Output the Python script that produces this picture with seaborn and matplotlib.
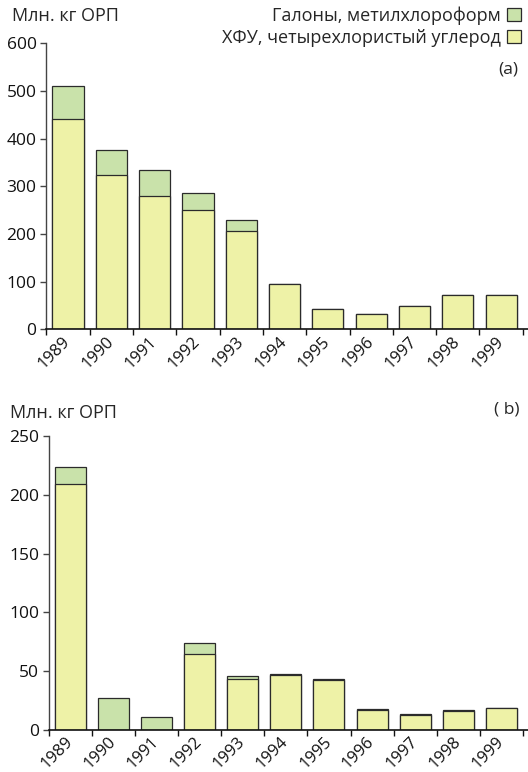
import numpy as np
import pandas as pd
import seaborn as sns
import matplotlib
matplotlib.use("Agg")
import matplotlib.pyplot as plt
from matplotlib.patches import Patch

years = ['1989', '1990', '1991', '1992', '1993', '1994', '1995', '1996', '1997', '1998', '1999']

# panel (a)
a_cfc = [441, 324, 279, 251, 206, 96, 43, 33, 48, 71, 72]
a_halon = [70, 53, 56, 36, 24, 0, 0, 0, 0, 0, 0]

# panel (b)
b_cfc = [209, 0, 0, 65, 43, 46.5, 42.2, 17.3, 12.8, 16.4, 18.4]
b_halon = [15, 27.5, 11.3, 8.7, 2.6, 0.8, 1.2, 0.8, 0.8, 0.6, 0.6]

ylabel = 'Млн. кг ОРП'
legend_halon = 'Галоны, метилхлороформ'
legend_cfc = 'ХФУ, четырехлористый углерод'

YELLOW = '#EEF2A7'
GREEN = '#C9E2AA'
EDGE = '#2b2b2b'

sns.set_theme(style='white')
plt.rcParams['font.family'] = ['Open Sans', 'DejaVu Sans']

fig = plt.figure(figsize=(5.28, 7.72), dpi=100)
ax1 = fig.add_axes([0.0877, 0.5734, 0.9123, 0.3705])
ax2 = fig.add_axes([0.0928, 0.0544, 0.9072, 0.3808])


def draw(ax, cfc, halon, ymax, step):
    df = pd.DataFrame({'year': years,
                       'total': np.add(cfc, halon),
                       'cfc': cfc})
    sns.barplot(data=df, x='year', y='total', color=GREEN, width=0.72,
                edgecolor=EDGE, linewidth=0.9, saturation=1, ax=ax)
    sns.barplot(data=df, x='year', y='cfc', color=YELLOW, width=0.72,
                edgecolor=EDGE, linewidth=0.9, saturation=1, ax=ax)
    ax.set_xlim(-0.49, 10.62)
    ax.set_ylim(0, ymax)
    ax.set_yticks(np.arange(0, ymax + 1, step))
    ax.set_xticks(range(len(years)))
    ax.set_xticklabels(years)
    ax.set_xticks(np.arange(-0.5, 10.6, 1.0), minor=True)
    ax.set_xlabel('')
    ax.set_ylabel('')
    for s in ['top', 'right']:
        ax.spines[s].set_visible(False)
    ax.spines['left'].set_color('#444444')
    ax.spines['left'].set_linewidth(1.0)
    ax.spines['bottom'].set_color('#111111')
    ax.spines['bottom'].set_linewidth(1.2)
    ax.tick_params(axis='y', which='major', left=True, length=4, width=1,
                   color='#444444', labelsize=12.5, pad=3, colors='#111111')
    ax.tick_params(axis='x', which='major', bottom=False, length=0,
                   labelsize=12, pad=7, colors='#111111')
    ax.tick_params(axis='x', which='minor', bottom=True, length=4, width=1,
                   color='#111111')
    for lab in ax.get_xticklabels():
        lab.set_rotation(45)
        lab.set_ha('right')
        lab.set_va('center')
        lab.set_rotation_mode('anchor')
    ax.grid(False)


draw(ax1, a_cfc, a_halon, 600, 100)
draw(ax2, b_cfc, b_halon, 250, 50)

fig.text(12 / 528, 1 - 16 / 772, ylabel, fontsize=13, va='center', ha='left')
fig.text(10 / 528, 1 - 413 / 772, ylabel, fontsize=13, va='center', ha='left')
fig.text(518 / 528, 1 - 70 / 772, '(a)', fontsize=12.5, va='center', ha='right')
fig.text(519 / 528, 1 - 409 / 772, '( b)', fontsize=12.5, va='center', ha='right')

handles = [Patch(facecolor=GREEN, edgecolor=EDGE, linewidth=0.9, label=legend_halon),
           Patch(facecolor=YELLOW, edgecolor=EDGE, linewidth=0.9, label=legend_cfc)]
fig.legend(handles=handles, loc='upper right', bbox_to_anchor=(1.0, 1.001),
           frameon=False, markerfirst=False, fontsize=13,
           handlelength=0.75, handleheight=0.75, handletextpad=0.35,
           labelspacing=0.2, borderaxespad=0.2, borderpad=0.2)

fig.savefig('out.png', dpi=100)
